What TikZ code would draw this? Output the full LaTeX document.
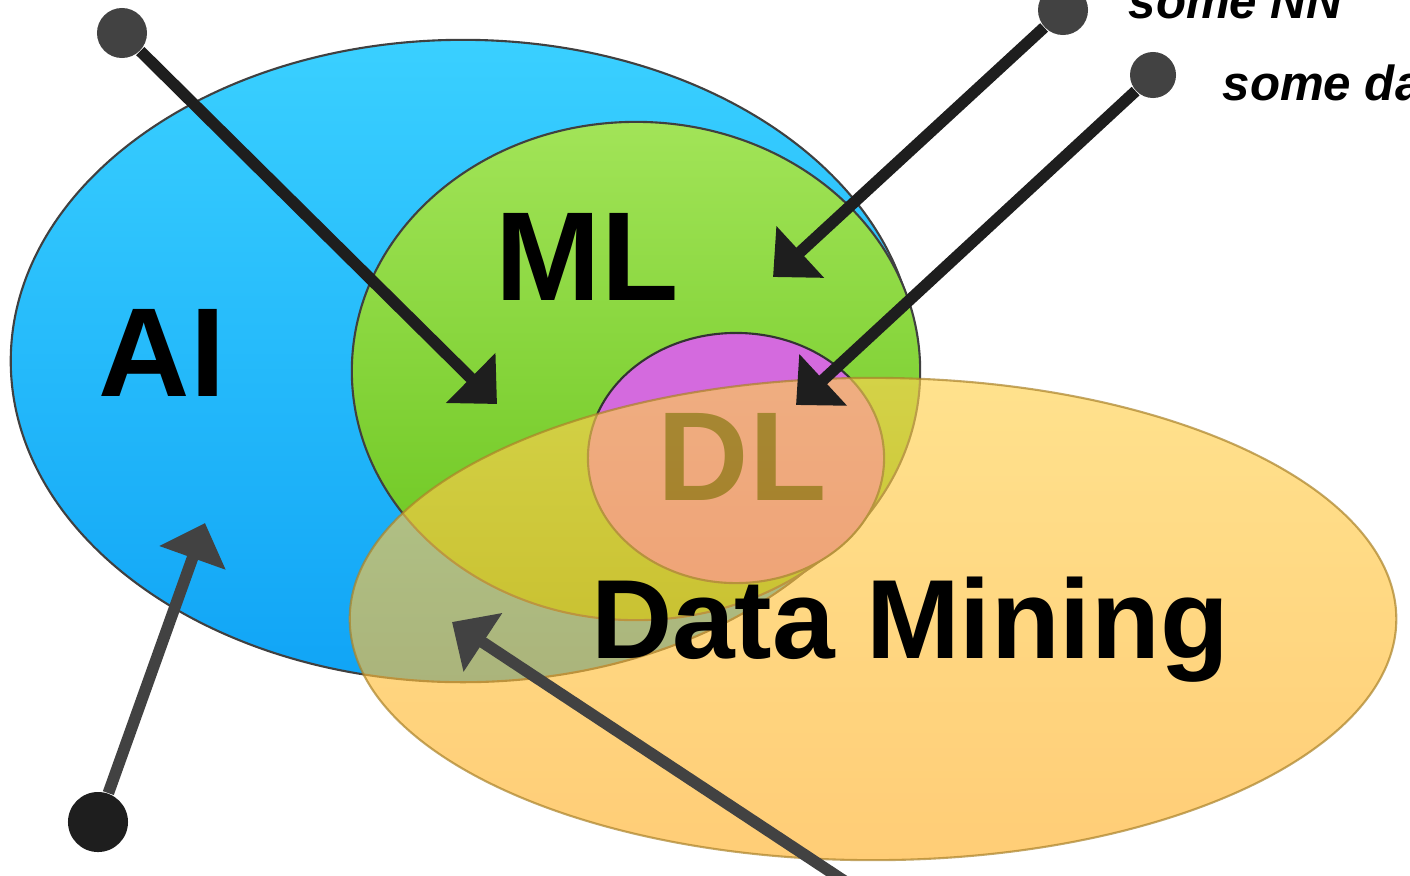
\documentclass[tikz,border=0pt]{standalone}
\usepackage{fontspec}
\setmainfont{Liberation Sans}
\usetikzlibrary{arrows.meta,shapes.geometric,positioning}

\definecolor{aiTop}{RGB}{58,208,255}
\definecolor{aiBot}{RGB}{16,164,246}
\definecolor{mlTop}{RGB}{162,228,88}
\definecolor{mlBot}{RGB}{104,196,28}
\definecolor{dlPink}{RGB}{212,106,222}
\definecolor{dmTop}{RGB}{255,210,80}
\definecolor{dmBot}{RGB}{255,178,45}
\definecolor{dmEdge}{RGB}{170,130,40}
\definecolor{pinGray}{RGB}{66,66,66}
\definecolor{pinDark}{RGB}{30,30,30}

\begin{document}
\begin{tikzpicture}[x=0.01cm,y=-0.01cm,
  set/.style={ellipse, inner sep=0pt, draw=#1, line width=0.6pt},
  big/.style={font=\fontsize{36}{40}\selectfont\bfseries},
  note/.style={font=\fontsize{14}{16}\selectfont\bfseries\itshape, anchor=base west, inner sep=0pt},
  pin/.style={circle, fill=pinGray, inner sep=0pt, minimum size=0.5cm},
  pointer/.style={line width=3.3pt, draw=#1, -{Triangle[length=0.37cm,width=0.68cm]}}
]
\useasboundingbox (0,0) rectangle (1410,875);
\clip (0,0) rectangle (1410,875);
% Sets
\node[set=black!75, top color=aiTop, bottom color=aiBot, minimum width=9.04cm, minimum height=6.42cm] (ai) at (463,361) {};
\node[set=black!75, top color=mlTop, bottom color=mlBot, minimum width=5.68cm, minimum height=4.98cm] (ml) at (636,371) {};
\node[set=black!80, fill=dlPink, minimum width=2.96cm, minimum height=2.5cm] (dl) at (736,458) {};
\node[big, anchor=base] (dlText) at (742,500) {DL};
% Data Mining overlay
\node[set=dmEdge, top color=dmTop, bottom color=dmBot, fill opacity=0.65, draw opacity=0.7, minimum width=10.46cm, minimum height=4.82cm] (dm) at (873,619) {};
% Labels
\node[big, anchor=base] (aiText) at (162,396) {AI};
\node[big, anchor=base] (mlText) at (587,300) {ML};
\node[font=\fontsize{32}{36}\selectfont\bfseries, anchor=base] (dmText) at (910,658) {Data Mining};
\node[note] (nnText) at (1128,18) {some NN};
\node[note] (daText) at (1222,100) {some da};
% Pins and pointers
\node[pin] (mlPin) at (122,33) {};
\node[pin] (nnPin) at (1063,10) {};
\node[pin, minimum size=0.46cm] (daPin) at (1153,75) {};
\node[pin, fill=pinDark, minimum size=0.6cm] (aiPin) at (98,822) {};
\coordinate (dmFoot) at (861,892);
\coordinate (mlTip) at (497,404);
\coordinate (nnTip) at (773,277);
\coordinate (daTip) at (796,405);
\coordinate (aiTip) at (205,523);
\coordinate (dmTip) at (452,622);
\foreach \from/\to/\col in {mlPin/mlTip/pinDark, nnPin/nnTip/pinDark, daPin/daTip/pinDark, aiPin/aiTip/pinGray, dmFoot/dmTip/pinGray} {
  \draw[pointer=\col] (\from) -- (\to);
}
\end{tikzpicture}
\end{document}
